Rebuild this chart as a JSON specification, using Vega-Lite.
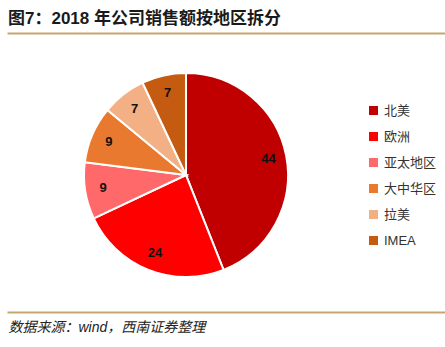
{
  "$schema": "https://vega.github.io/schema/vega-lite/v6.json",
  "width": 438,
  "height": 279,
  "autosize": {"type": "none"},
  "padding": {"left": 7, "top": 33, "right": 0, "bottom": 35},
  "background": "white",
  "config": {"view": {"stroke": null}, "font": "Liberation Sans, Noto Sans CJK SC"},
  "title": {
    "text": "图7：2018 年公司销售额按地区拆分",
    "anchor": "start",
    "frame": "group",
    "fontSize": 17,
    "fontWeight": "bold",
    "color": "#1a1a1a",
    "font": "Liberation Sans, Noto Sans CJK SC",
    "offset": 5,
    "dx": 1
  },
  "data": {
    "values": [
      {"region": "北美", "value": 44, "order": 1},
      {"region": "欧洲", "value": 24, "order": 2},
      {"region": "亚太地区", "value": 9, "order": 3},
      {"region": "大中华区", "value": 9, "order": 4},
      {"region": "拉美", "value": 7, "order": 5},
      {"region": "IMEA", "value": 7, "order": 6}
    ]
  },
  "layer": [
    {
      "mark": {"type": "arc", "outerRadius": 102, "stroke": "white", "strokeWidth": 2},
      "encoding": {
        "theta": {"field": "value", "type": "quantitative", "stack": true},
        "order": {"field": "order", "type": "quantitative"},
        "color": {
          "field": "region",
          "type": "nominal",
          "sort": ["北美", "欧洲", "亚太地区", "大中华区", "拉美", "IMEA"],
          "scale": {
            "domain": ["北美", "欧洲", "亚太地区", "大中华区", "拉美", "IMEA"],
            "range": ["#C00000", "#FF0000", "#FF6969", "#E8792E", "#F3B084", "#C55A11"]
          },
          "legend": {
            "title": null,
            "orient": "none",
            "legendX": 360,
            "legendY": 71,
            "padding": 0,
            "symbolType": "square",
            "symbolSize": 81,
            "symbolStrokeWidth": 0,
            "labelFontSize": 13,
            "labelColor": "#333333",
            "labelFont": "Liberation Sans, Noto Sans CJK SC",
            "labelOffset": 4,
            "rowPadding": 12
          }
        },
        "x": {"datum": 0.4087, "type": "quantitative", "scale": {"domain": [0, 1]},
              "axis": {"orient": "top", "domainColor": "#C5A56E", "domainWidth": 2, "ticks": false, "labels": false, "grid": false, "title": null}},
        "y": {"datum": 0.491, "type": "quantitative", "scale": {"domain": [0, 1]}, "axis": null}
      }
    },
    {
      "mark": {"type": "text", "radius": 84, "fontSize": 13, "fontWeight": "bold", "color": "#111111", "font": "Liberation Sans"},
      "encoding": {
        "theta": {"field": "value", "type": "quantitative", "stack": true},
        "order": {"field": "order", "type": "quantitative"},
        "text": {"field": "value", "type": "quantitative"},
        "x": {"datum": 0.4087, "type": "quantitative", "scale": {"domain": [0, 1]}, "axis": null},
        "y": {"datum": 0.491, "type": "quantitative", "scale": {"domain": [0, 1]}, "axis": null}
      }
    },
    {
      "mark": {"type": "rule", "opacity": 0},
      "encoding": {
        "x2": {"datum": 1},
        "x": {"datum": 0, "type": "quantitative", "scale": {"domain": [0, 1]},
              "axis": {"orient": "bottom", "domainColor": "#C5A56E", "domainWidth": 2, "ticks": false, "labels": false, "grid": false,
                       "title": "数据来源：wind，西南证券整理", "titleFont": "Liberation Sans, Noto Sans CJK SC", "titleFontStyle": "italic",
                       "titleFontWeight": "normal", "titleFontSize": 14, "titleColor": "#222222", "titleAnchor": "start", "titleAlign": "left",
                       "titleBaseline": "middle", "titleX": 1, "titleY": 15}}
      }
    }
  ],
  "resolve": {"scale": {"x": "independent", "y": "independent"}, "axis": {"x": "independent"}}
}
